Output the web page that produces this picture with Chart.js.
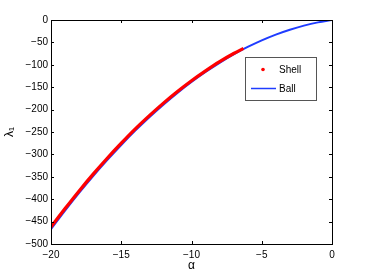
<!DOCTYPE html>
<html>
<head>
<meta charset="utf-8">
<script src="https://cdn.jsdelivr.net/npm/chart.js@4/dist/chart.umd.min.js"></script>
<style>
  html, body { margin: 0; padding: 0; background: #fff; }
  #wrap { width: 366px; height: 275px; }
</style>
</head>
<body>
<div id="wrap"><canvas id="grafico"></canvas></div>
<script>
// values
var ballAlpha = [-20, -19, -18, -17, -16, -15, -14, -13, -12, -11, -10, -9, -8, -7, -6, -5, -4, -3, -2, -1, 0];
var ballLambda = [-467, -425.6, -386, -348.4, -312.8, -279, -247, -217, -189, -162.7, -138.4, -116, -95.5, -76.9, -60.2, -45.4, -32.5, -21.6, -12.5, -5.3, 0];

var shellAlpha = [-20, -19, -18, -17, -16, -15, -14, -13, -12, -11, -10, -9, -8, -7, -6.3];
var shellLambda = [-462, -421, -381.5, -344, -308.5, -275, -243, -213.5, -185.5, -159.5, -135.5, -113.5, -93, -74.8, -63.5];

var xTicks = [-20, -15, -10, -5, 0];
var yTicks = [-500, -450, -400, -350, -300, -250, -200, -150, -100, -50, 0];

function pares(xs, ys) {
  var out = [];
  for (var i = 0; i < xs.length; i++) out.push({ x: xs[i], y: ys[i] });
  return out;
}
function menos(v) { return String(v).replace('-', '\u2212'); }

var fuente = "'Liberation Sans', Arial, sans-serif";

/* marco y ticks hacia dentro, estilo matlab */
var marco = {
  id: 'marco',
  afterDatasetsDraw: function (chart) {
    var c = chart.ctx, a = chart.chartArea;
    var sx = chart.scales.x, sy = chart.scales.y;
    c.save();
    c.strokeStyle = '#000';
    c.lineWidth = 1;
    c.beginPath();
    xTicks.forEach(function (t) {
      var p = Math.round(sx.getPixelForValue(t)) + 0.5;
      c.moveTo(p, a.bottom); c.lineTo(p, a.bottom - 3);
      c.moveTo(p, a.top); c.lineTo(p, a.top + 3);
    });
    yTicks.forEach(function (t) {
      var p = Math.round(sy.getPixelForValue(t)) + 0.5;
      c.moveTo(a.left, p); c.lineTo(a.left + 3, p);
      c.moveTo(a.right, p); c.lineTo(a.right - 3, p);
    });
    c.stroke();
    c.strokeRect(Math.round(a.left) + 0.5, Math.round(a.top) + 0.5,
                 Math.round(a.right - a.left), Math.round(a.bottom - a.top));
    c.restore();
  }
};

/* leyenda dentro del area */
var leyenda = {
  id: 'leyenda',
  afterDraw: function (chart) {
    var c = chart.ctx;
    var x0 = 245.5, y0 = 57.5, w = 71, h = 43;
    c.save();
    c.fillStyle = '#fff';
    c.fillRect(x0, y0, w, h);
    c.strokeStyle = '#555';
    c.lineWidth = 1;
    c.strokeRect(x0, y0, w, h);
    c.fillStyle = '#ff0000';
    c.beginPath();
    c.arc(263, 69.5, 1.8, 0, Math.PI * 2);
    c.fill();
    c.strokeStyle = '#1f3cff';
    c.lineWidth = 1.5;
    c.beginPath();
    c.moveTo(251, 88.5); c.lineTo(276, 88.5);
    c.stroke();
    c.fillStyle = '#000';
    c.font = '10px ' + fuente;
    c.textBaseline = 'middle';
    c.fillText(chart.data.datasets[0].label, 279, 70);
    c.fillText(chart.data.datasets[1].label, 279, 89);
    c.restore();
  }
};

var ctx = document.getElementById('grafico').getContext('2d');
var grafico = new Chart(ctx, {
  type: 'scatter',
  data: {
    datasets: [{
      label: 'Shell',
      data: pares(shellAlpha, shellLambda),
      showLine: true,
      borderColor: '#ff0000',
      borderWidth: 3.2,
      pointRadius: 0,
      cubicInterpolationMode: 'monotone',
      order: 0
    }, {
      label: 'Ball',
      data: pares(ballAlpha, ballLambda),
      showLine: true,
      borderColor: '#1f3cff',
      borderWidth: 2,
      pointRadius: 0,
      cubicInterpolationMode: 'monotone',
      order: 1
    }]
  },
  options: {
    responsive: true,
    maintainAspectRatio: false,
    animation: false,
    layout: { padding: { top: 20, right: 34, left: 2, bottom: 0 } },
    plugins: { legend: { display: false }, tooltip: { enabled: false } },
    scales: {
      x: {
        type: 'linear',
        min: -20, max: 0,
        afterBuildTicks: function (s) { s.ticks = xTicks.map(function (v) { return { value: v }; }); },
        afterFit: function (s) { s.height = 31; },
        grid: { display: false, drawTicks: false },
        border: { display: false },
        ticks: {
          padding: 5,
          color: '#000',
          font: { size: 10, family: fuente },
          maxRotation: 0,
          callback: function (v) { return menos(v); }
        },
        title: {
          display: true, text: '\u03b1', color: '#000',
          font: { size: 12, family: fuente },
          padding: { top: 0, bottom: 2 }
        }
      },
      y: {
        type: 'linear',
        min: -500, max: 0,
        afterBuildTicks: function (s) { s.ticks = yTicks.map(function (v) { return { value: v }; }); },
        afterFit: function (s) { s.width = 49; },
        grid: { display: false, drawTicks: false },
        border: { display: false },
        ticks: {
          padding: 3,
          color: '#000',
          font: { size: 10, family: fuente },
          callback: function (v) { return menos(v); }
        },
        title: {
          display: true, text: '\u03bb\u2081', color: '#000',
          font: { size: 12, family: fuente },
          padding: { top: 0, bottom: 0 }
        }
      }
    }
  },
  plugins: [marco, leyenda]
});
</script>
</body>
</html>
